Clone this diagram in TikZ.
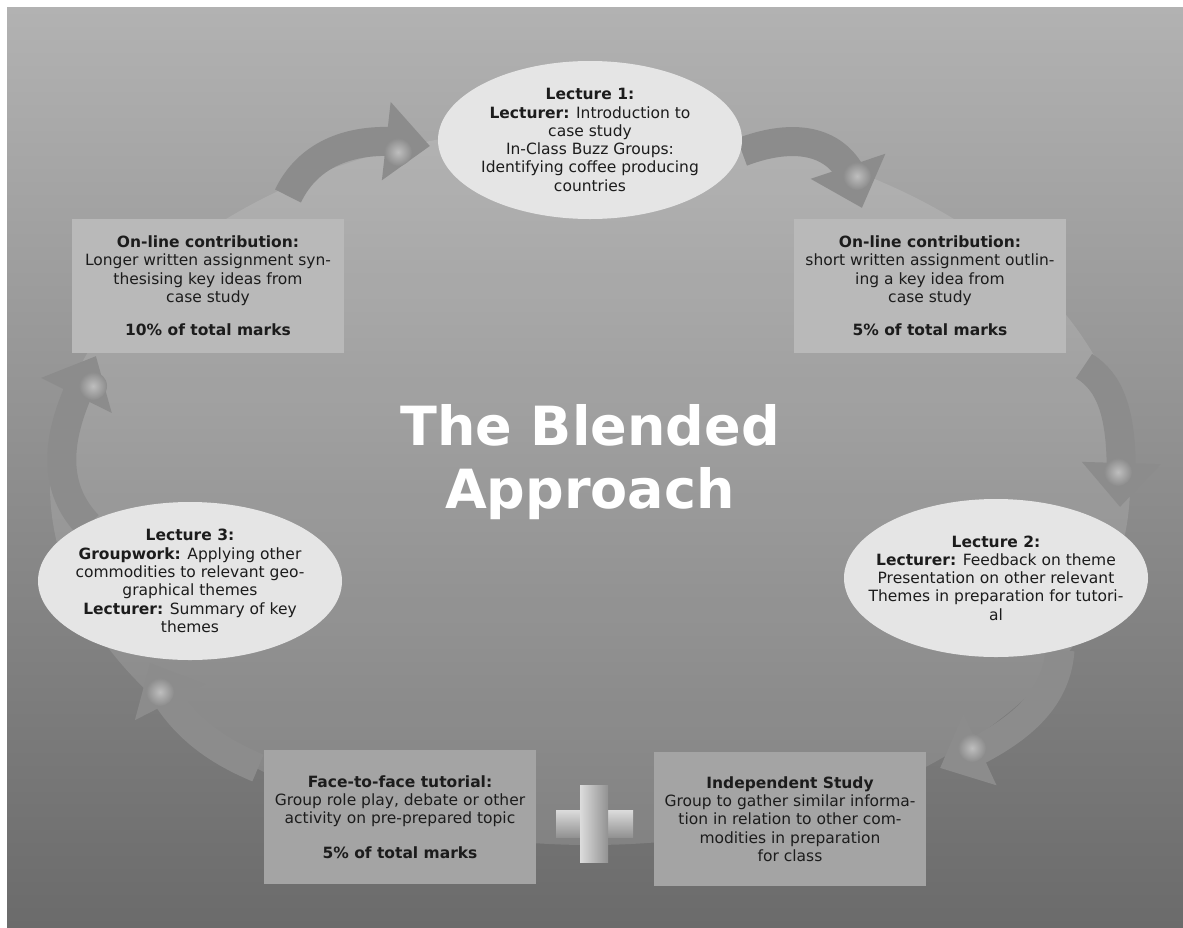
\documentclass[tikz,border=0pt]{standalone}
\usepackage{fontspec}
\setmainfont{DejaVu Sans}
\usetikzlibrary{arrows.meta}
\usetikzlibrary{bending}
\usetikzlibrary{shapes.geometric}

\definecolor{bgtop}{HTML}{B2B2B2}
\definecolor{bgbot}{HTML}{6B6B6B}
\definecolor{ovalfill}{HTML}{E5E5E5}
\definecolor{boxtop}{HTML}{B9B9B9}
\definecolor{boxbot}{HTML}{A4A4A4}
\definecolor{arrowgray}{HTML}{8C8C8C}
\definecolor{glintgray}{HTML}{BEBEBE}
\definecolor{inktext}{HTML}{1C1C1C}
\definecolor{plushi}{HTML}{DCDCDC}
\definecolor{pluslo}{HTML}{929292}

\pgfdeclarelayer{backdrop}
\pgfdeclarelayer{arrowlayer}
\pgfsetlayers{backdrop,arrowlayer,main}

\tikzset{
  lecture/.style={ellipse, fill=ovalfill, inner xsep=-40pt, inner ysep=-10pt,
    minimum width=304pt, minimum height=158pt, align=center, text=inktext,
    font=\fontsize{15.5}{18.3}\selectfont},
  task/.style={rectangle, inner sep=0pt, minimum width=272pt, minimum height=134pt,
    align=center, text=inktext, font=\fontsize{15.5}{18.3}\selectfont},
  cyclearrow/.style={draw=arrowgray, line width=29pt,
    -{Triangle[length=44pt,width=76pt]}},
  glint/.style={inner color=glintgray, outer color=arrowgray},
}

\begin{document}
\begin{tikzpicture}[x=1pt, y=-1pt]

    \useasboundingbox (0,0) rectangle (1183,927);

    \begin{pgfonlayer}{backdrop}
        \fill[white] (0,0) rectangle (1183,927);
        \shade[top color=bgtop, bottom color=bgbot] (7,7) rectangle (1183,927);
        \fill[white, fill opacity=0.12] (590,485) ellipse [x radius=540, y radius=360];
    \end{pgfonlayer}

    % the three lectures
    \node[lecture] (lecA) at (590,140) {\textbf{Lecture 1:}\\
        \textbf{Lecturer:} Introduction to\\
        case study\\
        In-Class Buzz Groups:\\
        Identifying coffee producing\\
        countries};
    \node[lecture] (lecB) at (996,578) {\textbf{Lecture 2:}\\
        \textbf{Lecturer:} Feedback on theme\\
        Presentation on other relevant\\
        Themes in preparation for tutori-\\
        al};
    \node[lecture] (lecC) at (190,581) {\textbf{Lecture 3:}\\
        \textbf{Groupwork:} Applying other\\
        commodities to relevant geo-\\
        graphical themes\\
        \textbf{Lecturer:} Summary of key\\
        themes};

    % the boxes in between
    \node[task, fill=boxtop] (onlineL) at (208,286) {\textbf{On-line contribution:}\\
        Longer written assignment syn-\\
        thesising key ideas from\\
        case study\\[15pt]
        \textbf{10\% of total marks}};
    \node[task, fill=boxtop] (onlineR) at (930,286) {\textbf{On-line contribution:}\\
        short written assignment outlin-\\
        ing a key idea from\\
        case study\\[15pt]
        \textbf{5\% of total marks}};
    \node[task, fill=boxbot] (tutorial) at (400,817) {\textbf{Face-to-face tutorial:}\\
        Group role play, debate or other\\
        activity on pre-prepared topic\\[16pt]
        \textbf{5\% of total marks}};
    \node[task, fill=boxbot] (selfstudy) at (790,819) {\textbf{Independent Study}\\
        Group to gather similar informa-\\
        tion in relation to other com-\\
        modities in preparation\\
        for class};

    \node[text=white, align=center, font=\fontsize{54}{63}\selectfont\bfseries] (title)
        at (590,462) {The Blended\\Approach};

    % plus between the two bottom boxes
    \shade[top color=plushi, bottom color=pluslo] (556,810) rectangle (633,837);
    \shade[left color=plushi, right color=pluslo] (580,785) rectangle (608,862);

    % arrow ends
    \coordinate (a1s) at (288,196);  \coordinate (a1e) at (430,146);
    \coordinate (a2s) at (742,152);  \coordinate (a2e) at (862,208);
    \coordinate (a3s) at (1084,366); \coordinate (a3e) at (1120,507);
    \coordinate (a4s) at (1060,650); \coordinate (a4e) at (940,768);
    \coordinate (a5s) at (258,768);  \coordinate (a5e) at (150,663);
    \coordinate (a6s) at (88,525);   \coordinate (a6e) at (96,356);

    \begin{pgfonlayer}{arrowlayer}
        \draw[cyclearrow] (a1s) .. controls (310,150) and (360,132) .. (a1e);
        \draw[cyclearrow] (a2s) .. controls (800,130) and (852,140) .. (a2e);
        \draw[cyclearrow] (a3s) .. controls (1115,385) and (1125,425) .. (a3e);
        \draw[cyclearrow] (a4s) .. controls (1056,705) and (1012,738) .. (a4e);
        \draw[cyclearrow] (a5s) .. controls (215,750) and (172,722) .. (a5e);
        \draw[cyclearrow] (a6s) .. controls (45,480) and (60,420) .. (a6e);

        % soft light spots on the heads
        \shade[glint] (398,152) circle (14);
        \shade[glint] (857,176) circle (14);
        \shade[glint] (1118,472) circle (14);
        \shade[glint] (972,748) circle (14);
        \shade[glint] (160,692) circle (14);
        \shade[glint] (93,386) circle (14);
    \end{pgfonlayer}

\end{tikzpicture}
\end{document}
